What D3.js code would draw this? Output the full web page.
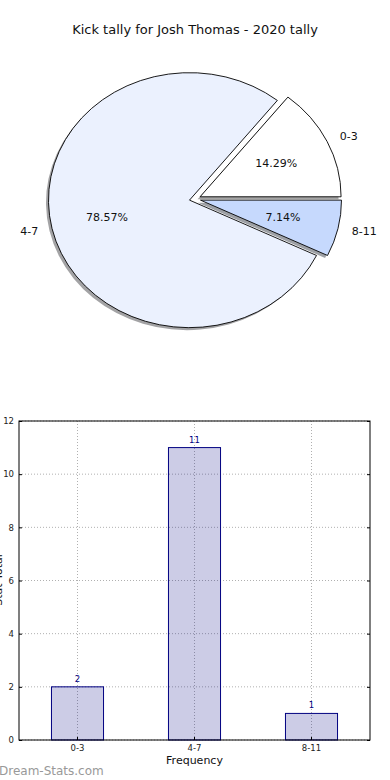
<!DOCTYPE html>
<html><head><meta charset="utf-8">
<script src="https://cdn.jsdelivr.net/npm/d3@7"></script>
<style>body{margin:0;background:#fff}svg{display:block;font-family:"DejaVu Sans",sans-serif}</style>
</head><body><svg id="c" width="390" height="780"></svg>
<script>
const categories = ["0-3", "4-7", "8-11"];
const counts = [2, 11, 1];
const pieColors = ["#ffffff", "#ebf1fe", "#c6d9fd"];
const yTicks = [0, 2, 4, 6, 8, 10, 12];
const title = "Kick tally for Josh Thomas - 2020 tally";

const svg = d3.select("#c");
svg.append("rect").attr("width",390).attr("height",780).attr("fill","#fff");

// ---- Pie ----
svg.append("text").attr("x",195).attr("y",34).attr("text-anchor","middle")
  .attr("font-size",13).attr("fill","#111").text(title);

const cx = 195, cy = 199, rx = 141, ry = 127.5, explode = 0.04;
const total = d3.sum(counts);
const pie = d3.pie().sort(null).startAngle(Math.PI/2).endAngle(Math.PI/2 - 2*Math.PI);
const arcs = pie(counts);
const arc = d3.arc().innerRadius(0).outerRadius(1);
const pg = svg.append("g");
function off(d){ const m=(d.startAngle+d.endAngle)/2; return [cx+explode*rx*Math.sin(m), cy-explode*ry*Math.cos(m), m]; }
// shadows
arcs.forEach((d,i)=>{
  const [ox,oy]=off(d);
  const c=d3.rgb(pieColors[i]);
  pg.append("path").attr("d",arc(d))
    .attr("transform",`translate(${ox-2.5},${oy+2.5}) scale(${rx},${ry})`)
    .attr("fill",d3.rgb(c.r*0.3,c.g*0.3,c.b*0.3)).attr("fill-opacity",0.5);
});
arcs.forEach((d,i)=>{
  const [ox,oy,m]=off(d);
  pg.append("path").attr("d",arc(d))
    .attr("transform",`translate(${ox},${oy}) scale(${rx},${ry})`)
    .attr("fill",pieColors[i]).attr("stroke","#000").attr("stroke-width",0.9)
    .attr("vector-effect","non-scaling-stroke");
  const sx=Math.sin(m), sy=-Math.cos(m);
  pg.append("text").attr("x",ox+1.1*rx*sx).attr("y",oy+1.1*ry*sy).attr("dy","0.35em")
    .attr("text-anchor", sx>0?"start":"end").attr("font-size",11).attr("fill","#111")
    .text(categories[i]);
  pg.append("text").attr("x",ox+0.6*rx*sx).attr("y",oy+0.6*ry*sy).attr("dy","0.35em")
    .attr("text-anchor","middle").attr("font-size",11).attr("fill","#111")
    .text((counts[i]/total*100).toFixed(2)+"%");
});

// ---- Bar chart ----
const L=19, R=370, T=421, B=740;
const x = d3.scaleBand().domain(categories).range([L,R]).paddingInner(0.555).paddingOuter(0.2775);
const y = d3.scaleLinear().domain([0,12]).range([B,T]);
const bg = svg.append("g");
// grid
bg.selectAll(".hg").data(yTicks).join("line")
  .attr("x1",L).attr("x2",R).attr("y1",d=>y(d)).attr("y2",d=>y(d))
  .attr("stroke","#b0b0b0").attr("stroke-width",1).attr("stroke-dasharray","1,2");
bg.selectAll(".vg").data(categories).join("line")
  .attr("x1",d=>x(d)+x.bandwidth()/2).attr("x2",d=>x(d)+x.bandwidth()/2).attr("y1",T).attr("y2",B)
  .attr("stroke","#b0b0b0").attr("stroke-width",1).attr("stroke-dasharray","1,2");
// bars
bg.selectAll(".bar").data(counts).join("rect")
  .attr("x",(d,i)=>x(categories[i])).attr("width",x.bandwidth())
  .attr("y",d=>y(d)).attr("height",d=>B-y(d))
  .attr("fill","#000080").attr("fill-opacity",0.2).attr("stroke","#000080").attr("stroke-width",1);
bg.selectAll(".vl").data(counts).join("text")
  .attr("x",(d,i)=>x(categories[i])+x.bandwidth()/2).attr("y",d=>y(d)-5)
  .attr("text-anchor","middle").attr("font-size",8.5).attr("fill","#000080").text(d=>d);
// frame
bg.append("rect").attr("x",L).attr("y",T).attr("width",R-L).attr("height",B-T)
  .attr("fill","none").attr("stroke","#000").attr("stroke-width",1);
// axes
const ya = d3.axisLeft(y).tickValues(yTicks).tickSize(-3).tickPadding(5);
bg.append("g").attr("transform",`translate(${L},0)`).call(ya)
  .call(g=>g.select(".domain").remove())
  .call(g=>g.selectAll("text").attr("font-size",8.5).attr("fill","#222").attr("font-family","DejaVu Sans"));
const ya2 = d3.axisRight(y).tickValues(yTicks).tickSize(-3).tickFormat("");
bg.append("g").attr("transform",`translate(${R},0)`).call(ya2).call(g=>g.select(".domain").remove());
const xa = d3.axisBottom(x).tickSize(-3).tickPadding(5);
bg.append("g").attr("transform",`translate(0,${B})`).call(xa)
  .call(g=>g.select(".domain").remove())
  .call(g=>g.selectAll("text").attr("font-size",8.5).attr("fill","#222").attr("font-family","DejaVu Sans"));
svg.append("text").attr("x",(L+R)/2).attr("y",764).attr("text-anchor","middle")
  .attr("font-size",11).attr("fill","#111").text("Frequency");
svg.append("text").attr("transform","translate(2,580) rotate(-90)").attr("text-anchor","middle")
  .attr("font-size",11).attr("fill","#111").text("Stat Total");
svg.append("text").attr("x",-1).attr("y",775).attr("font-size",12).attr("fill","#999")
  .text("Dream-Stats.com");
</script></body></html>
